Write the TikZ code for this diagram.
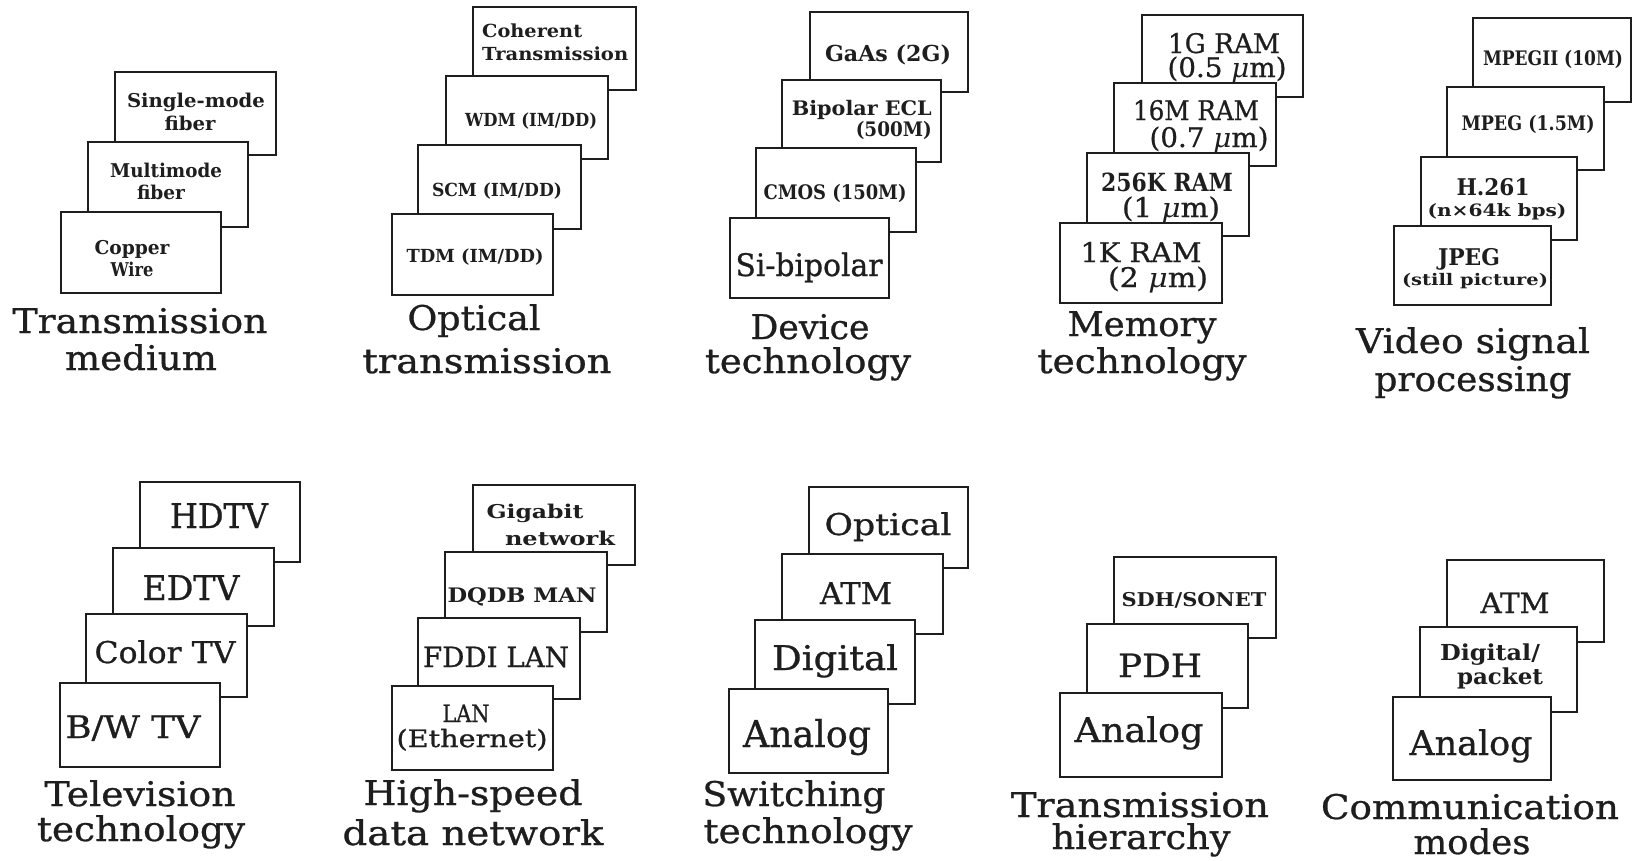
\documentclass[tikz,border=0pt]{standalone}
\usepackage{graphicx}
\usepackage{fontspec}
\setmainfont{DejaVu Serif}[UprightFeatures={FakeBold=0.8}]
\usetikzlibrary{fit}
\definecolor{ink}{HTML}{1E1E1E}
\newsavebox\fitbox
\newcommand\fw[2]{\sbox\fitbox{#2}\pgfmathsetmacro\fwr{#1/\the\wd\fitbox}\scalebox{\fwr}[1]{\usebox\fitbox}}
\tikzset{
  box/.style={draw=ink, fill=white, line width=2.2pt, inner sep=0pt},
  lab/.style={anchor=base, inner sep=0pt, text=ink},
}
\newcommand\bx[5]{\coordinate (#1nw) at (#2,#3); \coordinate (#1se) at (#4,#5); \node[box, fit=(#1nw)(#1se)] (#1) {};}
\newcommand\lreg[6]{\node[lab, font=\fontsize{#4}{#4}\selectfont] (#1) at (#2,#3) {\fw{#5}{#6}};}
\newcommand\lbld[6]{\node[lab, font=\fontsize{#4}{#4}\selectfont\bfseries] (#1) at (#2,#3) {\fw{#5}{#6}};}
\begin{document}
\begin{tikzpicture}[x=1pt,y=-1pt]
\useasboundingbox[fill=white] (0,0) rectangle (1638,860);
% ---- Transmission medium
\bx{a1}{115}{72}{276}{155}
\lbld{a1la}{196}{107}{19}{138}{Single-mode}
\lbld{a1lb}{190}{130}{19}{51}{fiber}
\bx{a2}{88}{142}{248}{227}
\lbld{a2la}{166}{177}{19}{112}{Multimode}
\lbld{a2lb}{161}{199}{19}{48}{fiber}
\bx{a3}{61}{212}{221}{293}
\lbld{a3la}{132}{254}{19}{75}{Copper}
\lbld{a3lb}{132}{276}{19}{43}{Wire}
\lreg{ata}{140}{333}{34}{255}{Transmission}
\lreg{atb}{141}{370}{34}{152}{medium}
% ---- Optical transmission
\bx{b1}{473}{7}{636}{90}
\node[lab, anchor=base west, font=\fontsize{18}{18}\selectfont\bfseries] (b1la) at (482,37) {\fw{100}{Coherent}};
\node[lab, anchor=base west, font=\fontsize{18}{18}\selectfont\bfseries] (b1lb) at (482,60) {\fw{146}{Transmission}};
\bx{b2}{446}{76}{608}{159}
\lbld{b2l}{531}{126}{18}{132}{WDM (IM/DD)}
\bx{b3}{418}{145}{581}{229}
\lbld{b3l}{497}{196}{18}{130}{SCM (IM/DD)}
\bx{b4}{392}{214}{553}{295}
\lbld{b4l}{475}{262}{18}{137}{TDM (IM/DD)}
\lreg{bta}{474}{330}{34}{133}{Optical}
\lreg{btb}{487}{373}{34}{249}{transmission}
% ---- Device technology
\bx{c1}{810}{12}{968}{92}
\lbld{c1l}{888}{61}{22}{126}{GaAs (2G)}
\bx{c2}{782}{80}{941}{162}
\node[lab, anchor=base east, font=\fontsize{20}{20}\selectfont\bfseries] (c2la) at (932,115) {\fw{140}{Bipolar ECL}};
\node[lab, anchor=base east, font=\fontsize{20}{20}\selectfont\bfseries] (c2lb) at (932,136) {\fw{76}{(500M)}};
\bx{c3}{756}{148}{916}{232}
\lbld{c3l}{835}{199}{20}{143}{CMOS (150M)}
\bx{c4}{730}{218}{889}{298}
\lreg{c4l}{809}{276}{31}{147}{Si-bipolar}
\lreg{cta}{810}{339}{34}{119}{Device}
\lreg{ctb}{808}{373}{34}{206}{technology}
% ---- Memory technology
\bx{d1}{1142}{15}{1303}{97}
\lreg{d1la}{1224}{53}{27}{112}{1G RAM}
\lreg{d1lb}{1227}{77}{27}{119}{(0.5 \textit{μ}m)}
\bx{d2}{1114}{83}{1276}{166}
\lreg{d2la}{1196}{120}{27}{126}{16M RAM}
\lreg{d2lb}{1209}{147}{27}{119}{(0.7 \textit{μ}m)}
\bx{d3}{1087}{153}{1249}{236}
\lbld{d3la}{1167}{191}{25}{132}{256K RAM}
\lreg{d3lb}{1171}{217}{27}{98}{(1 \textit{μ}m)}
\bx{d4}{1060}{223}{1222}{303}
\lreg{d4la}{1141}{262}{27}{121}{1K RAM}
\lreg{d4lb}{1158}{287}{27}{100}{(2 \textit{μ}m)}
\lreg{dta}{1142}{336}{34}{149}{Memory}
\lreg{dtb}{1142}{373}{34}{209}{technology}
% ---- Video signal processing
\bx{e1}{1473}{18}{1631}{102}
\lbld{e1l}{1553}{65}{20}{140}{MPEGII (10M)}
\bx{e2}{1447}{87}{1604}{170}
\lbld{e2l}{1528}{130}{20}{133}{MPEG (1.5M)}
\bx{e3}{1421}{157}{1577}{240}
\lbld{e3la}{1493}{195}{23}{73}{H.261}
\lbld{e3lb}{1497}{216}{17}{139}{(n×64k bps)}
\bx{e4}{1394}{226}{1551}{305}
\lbld{e4la}{1469}{265}{23}{62}{JPEG}
\lbld{e4lb}{1475}{285}{16}{146}{(still picture)}
\lreg{eta}{1473}{353}{34}{234}{Video signal}
\lreg{etb}{1473}{391}{34}{197}{processing}
% ---- Television technology
\bx{f1}{140}{482}{300}{562}
\lreg{f1l}{219}{528}{34}{98}{HDTV}
\bx{f2}{113}{548}{274}{626}
\lreg{f2l}{191}{600}{34}{97}{EDTV}
\bx{f3}{86}{614}{247}{697}
\lreg{f3l}{165}{663}{30}{141}{Color TV}
\bx{f4}{60}{683}{220}{767}
\lreg{f4l}{133}{738}{31}{135}{B/W TV}
\lreg{fta}{140}{806}{34}{191}{Television}
\lreg{ftb}{141}{841}{34}{208}{technology}
% ---- High-speed data network
\bx{g1}{473}{485}{635}{565}
\lbld{g1la}{535}{518}{19}{97}{Gigabit}
\lbld{g1lb}{560}{545}{19}{110}{network}
\bx{g2}{445}{552}{607}{632}
\lbld{g2l}{522}{602}{20}{149}{DQDB MAN}
\bx{g3}{418}{618}{580}{699}
\lreg{g3l}{496}{667}{28}{146}{FDDI LAN}
\bx{g4}{392}{686}{553}{770}
\lreg{g4la}{466}{722}{24}{47}{LAN}
\lreg{g4lb}{472}{747}{24}{151}{(Ethernet)}
\lreg{gta}{473}{805}{34}{219}{High-speed}
\lreg{gtb}{473}{845}{34}{261}{data network}
% ---- Switching technology
\bx{h1}{809}{487}{968}{568}
\lreg{h1l}{888}{535}{30}{127}{Optical}
\bx{h2}{782}{554}{943}{634}
\lreg{h2l}{856}{604}{30}{72}{ATM}
\bx{h3}{755}{620}{915}{704}
\lreg{h3l}{835}{670}{34}{126}{Digital}
\bx{h4}{729}{689}{888}{773}
\lreg{h4l}{807}{747}{37}{128}{Analog}
\lreg{hta}{794}{806}{34}{183}{Switching}
\lreg{htb}{808}{843}{34}{209}{technology}
% ---- Transmission hierarchy
\bx{i1}{1114}{557}{1276}{638}
\lbld{i1l}{1194}{606}{19}{145}{SDH/SONET}
\bx{i2}{1087}{624}{1248}{708}
\lreg{i2l}{1160}{677}{32}{84}{PDH}
\bx{i3}{1060}{693}{1222}{777}
\lreg{i3l}{1139}{742}{34}{129}{Analog}
\lreg{ita}{1140}{817}{34}{258}{Transmission}
\lreg{itb}{1141}{849}{34}{179}{hierarchy}
% ---- Communication modes
\bx{j1}{1447}{560}{1604}{642}
\lreg{j1l}{1515}{613}{28}{69}{ATM}
\bx{j2}{1420}{627}{1577}{712}
\lbld{j2la}{1490}{660}{22}{100}{Digital/}
\lbld{j2lb}{1500}{684}{22}{86}{packet}
\bx{j3}{1393}{697}{1551}{780}
\lreg{j3l}{1471}{755}{34}{123}{Analog}
\lreg{jta}{1470}{819}{34}{298}{Communication}
\lreg{jtb}{1472}{854}{34}{117}{modes}
\end{tikzpicture}
\end{document}
